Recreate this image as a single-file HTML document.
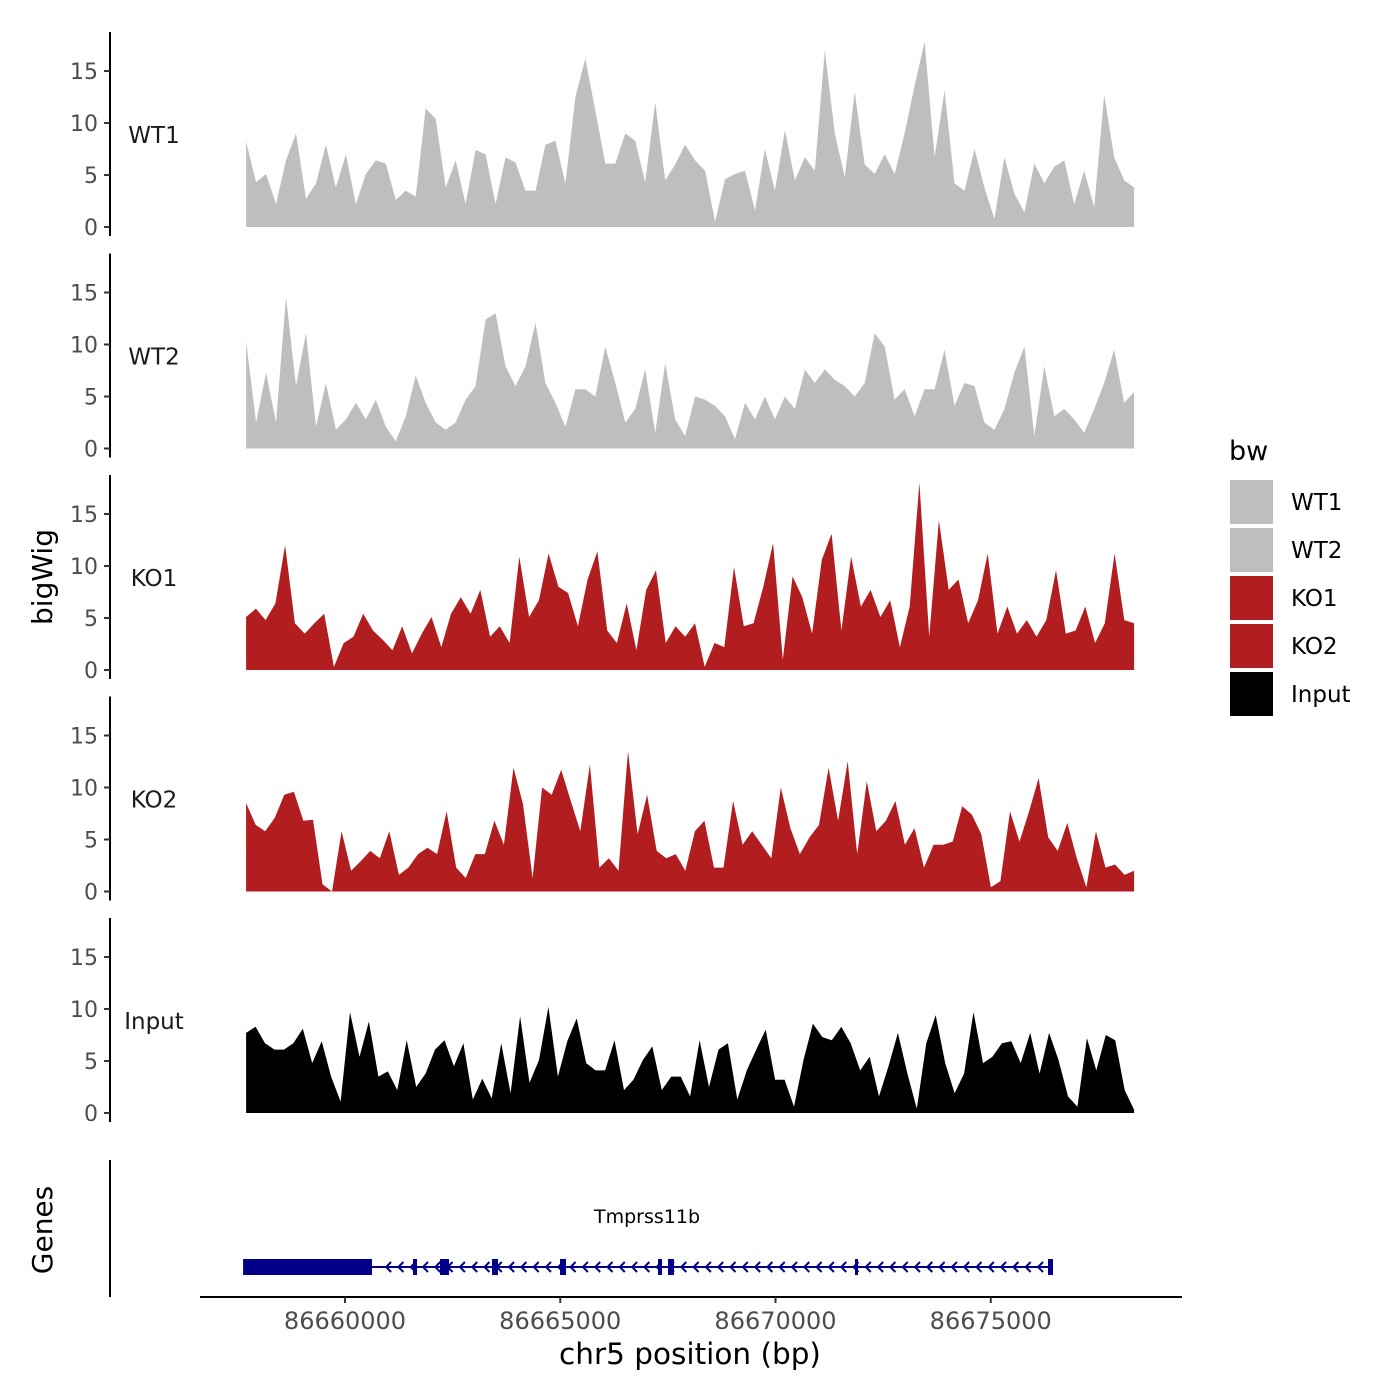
<!DOCTYPE html>
<html><head><meta charset="utf-8"><style>
body{margin:0;background:#fff}
svg{display:block;font-family:"DejaVu Sans","Liberation Sans",sans-serif}
</style></head><body>
<svg id="chart" width="1400" height="1400" viewBox="0 0 1400 1400" xmlns="http://www.w3.org/2000/svg">
<rect width="1400" height="1400" fill="#fff"/>
<g id="tracks"></g>
<g id="genes"></g>
<g id="xaxis"></g>
<text transform="translate(52,577) rotate(-90)" text-anchor="middle" font-size="28" fill="#000">bigWig</text>
<text transform="translate(52,1230) rotate(-90)" text-anchor="middle" font-size="28" fill="#000">Genes</text>
<text x="690" y="1364" text-anchor="middle" font-size="29.5" fill="#000">chr5 position (bp)</text>
<g id="legend"></g>
</svg>
<script>
const trackNames = ["WT1","WT2","KO1","KO2","Input"];
const trackColors = ["#bebebe","#bebebe","#b21e20","#b21e20","#000000"];
const yTicks = [0,5,10,15];
const xTicks = [86660000,86665000,86670000,86675000];
const dataStart = 86657703, dataEnd = 86678330;
const wt1 = [8.2,4.3,5.1,2.2,6.4,9,2.7,4.2,7.9,3.8,7,2.2,5.1,6.4,6.1,2.6,3.5,2.9,11.4,10.4,3.8,6.4,2.2,7.4,7,2.2,6.7,6.2,3.5,3.5,7.9,8.3,4.2,12.5,16.2,11.2,6.1,6.1,9,8.3,4.3,12,4.5,6,7.9,6.4,5.4,0.5,4.6,5.1,5.4,1.6,7.5,3.5,9.3,4.5,6.7,5.4,17,9,4.8,13,6,5.1,7,5.1,9,13.6,17.8,6.7,13.1,4.2,3.5,7.5,3.8,0.8,6.7,3.2,1.4,6.1,4.2,5.8,6.4,2.2,5.4,1.9,12.7,6.7,4.5,3.8];
const wt2 = [10.3,2.5,7.3,2.5,14.6,6,11.1,2.1,6.3,1.8,2.8,4.4,2.8,4.7,2.1,0.7,3.1,7,4.4,2.5,1.8,2.5,4.7,6,12.4,13,7.9,6,7.9,12.1,6.3,4.4,2.1,5.7,5.7,5,9.8,6.3,2.5,3.8,7.6,1.5,8.2,2.8,1.2,5,4.7,4.1,3.1,0.9,4.4,2.8,5,2.8,5,3.8,7.6,6.3,7.6,6.6,6,5,6.3,11.1,9.8,4.7,5.7,3.1,5.7,5.7,9.5,4.1,6.3,6,2.5,1.8,3.8,7.3,9.8,1.2,7.9,3.1,3.8,2.8,1.5,3.8,6.3,9.5,4.4,5.4];
const ko1 = [5.1,5.9,4.8,6.4,12,4.5,3.5,4.5,5.4,0.3,2.6,3.2,5.4,3.8,2.9,1.9,4.2,1.6,3.5,5.1,2.2,5.4,7,5.4,7.7,3.2,4.2,2.6,10.9,5.1,6.7,11.2,8,7.4,4.2,8.7,11.4,3.8,2.6,6.4,1.9,7.7,9.6,2.6,4.2,3.2,4.5,0.3,2.6,2.2,9.9,4.2,4.5,8,12.2,1,9,7,3.5,10.6,13.1,3.8,10.9,6.1,7.7,5.1,6.7,2.2,6.1,18,3.2,14.4,7.7,8.7,4.5,6.7,11.2,3.5,6.1,3.5,4.8,3.2,4.8,9.6,3.5,3.8,6.1,2.6,4.5,11.2,4.8,4.5];
const ko2 = [8.5,6.4,5.8,7.1,9.3,9.6,6.8,6.9,0.7,0,5.8,2,2.9,3.9,3.2,5.8,1.6,2.3,3.6,4.2,3.6,7.7,2.3,1.3,3.6,3.6,6.8,4.5,11.9,8.4,1.3,10,9.3,11.7,8.7,5.8,12.2,2.3,3.2,2,13.5,5.5,9.3,3.9,3.2,3.6,2,5.8,6.8,2.3,2.3,8.7,4.5,5.8,4.5,3.2,10,6.1,3.6,5.2,6.4,11.9,6.8,12.5,3.6,10.6,5.8,6.8,8.7,4.5,6.1,2.3,4.5,4.5,4.8,8.2,7.4,5.5,0.4,1,7.7,4.8,7.7,10.9,5.2,3.9,6.6,3.2,0.4,5.8,2.3,2.6,1.6,2];
const input = [7.7,8.3,6.7,6.1,6.1,6.7,8.1,4.8,6.9,3.5,1.1,9.7,5.4,8.8,3.5,4,2.2,7,2.5,3.8,6.1,7,4.5,6.7,1.3,3.3,1.4,6.7,1.9,9.3,2.9,5.1,10.2,3.5,6.9,9.1,4.8,4.1,4.1,7,2.2,3.2,5.1,6.4,2.2,3.5,3.5,1.6,7,2.5,6.1,6.7,1.3,4.1,6.1,8,3.2,3.2,0.6,5.1,8.6,7.3,7,8.3,6.7,4.1,5.4,1.6,4.5,7.7,3.8,0.4,6.7,9.4,4.8,1.9,3.8,9.7,4.8,5.4,6.7,6.9,4.8,7.7,3.8,7.7,5.1,1.6,0.6,7.2,4.1,7.5,7,2.2,0.3];
const geneName = "Tmprss11b";
const geneStart = 86657633, geneEnd = 86676427;
const exonStarts = [86657633,86661580,86662207,86663415,86664994,86667271,86667503,86671847,86676330];
const exonEnds   = [86660627,86661673,86662416,86663554,86665134,86667364,86667642,86671916,86676446];

const NS="http://www.w3.org/2000/svg";
function mk(tag,attrs,parent){const e=document.createElementNS(NS,tag);for(const k in attrs)e.setAttribute(k,attrs[k]);parent.appendChild(e);return e;}
const xScale = bp => 345 + (bp-86660000)*0.04305;
const series=[wt1,wt2,ko1,ko2,input];
const tracksG=document.getElementById('tracks');
for(let t=0;t<5;t++){
  const base=227+t*221.5;
  const yScale=v=>base - v*10.4;
  const g=mk('g',{},tracksG);
  
  
  const vals=series[t];
  const n=vals.length;
  let d='M'+xScale(dataStart)+','+base;
  vals.forEach((v,i)=>{const bp=dataStart+(dataEnd-dataStart)*i/(n-1);d+=' L'+xScale(bp).toFixed(1)+','+yScale(v).toFixed(1);});
  d+=' L'+xScale(dataEnd)+','+base+' Z';
  const p=mk('path',{d:d,fill:trackColors[t]},g);
  
  
  const ax=mk('line',{x1:110,x2:110,y1:base-195,y2:base+9,stroke:'#000','stroke-width':2},g);
  
  
  yTicks.forEach(v=>{
    const y=yScale(v);
    const tk=mk('line',{x1:104,x2:110,y1:y,y2:y,stroke:'#333','stroke-width':2},g);
    
    
    const tx=mk('text',{x:98,y:y+8,'text-anchor':'end','font-size':22,fill:'#4d4d4d'},g);
    
    
    tx.textContent=v;
  });
  const lb=mk('text',{x:154,y:base-84,'text-anchor':'middle','font-size':23,fill:'#1a1a1a'},g);
  
  
  lb.textContent=trackNames[t];
}
// genes
const gG=document.getElementById('genes');
const ga=mk('line',{x1:110,x2:110,y1:1160,y2:1297,stroke:'#000','stroke-width':2},gG);


const gl=mk('line',{x1:xScale(geneStart),x2:xScale(geneEnd),y1:1267,y2:1267,stroke:'#00008b','stroke-width':2},gG);


for(let x=xScale(geneStart)+145;x<xScale(geneEnd)-4;x+=12.3){
  const c=mk('path',{d:`M${x+3},1262 L${x-2},1267 L${x+3},1272`,fill:'none',stroke:'#00008b','stroke-width':2},gG);
  
  
}
exonStarts.forEach((s,i)=>{
  const x1=xScale(s),x2=xScale(exonEnds[i]);
  const r=mk('rect',{x:x1,y:1259,width:Math.max(3,x2-x1),height:16,fill:'#00008b'},gG);
  
  
});
const gn=mk('text',{x:647,y:1223,'text-anchor':'middle','font-size':19,fill:'#000'},gG);


gn.textContent=geneName;
// x axis
const xa=document.getElementById('xaxis');
const xl=mk('line',{x1:200,x2:1182,y1:1297,y2:1297,stroke:'#000','stroke-width':2},xa);


xTicks.forEach(v=>{
  const x=xScale(v);
  const tk=mk('line',{x1:x,x2:x,y1:1297,y2:1303,stroke:'#333','stroke-width':2},xa);
  
  
  const tx=mk('text',{x:x,y:1329,'text-anchor':'middle','font-size':24,fill:'#4d4d4d'},xa);
  
  
  tx.textContent=v;
});
// legend
const lg=document.getElementById('legend');
const lt=mk('text',{x:1229,y:460,'font-size':27,fill:'#000'},lg);


lt.textContent='bw';
trackNames.forEach((nm,i)=>{
  const y=480+i*48;
  const r=mk('rect',{x:1230,y:y,width:43,height:44,fill:trackColors[i]},lg);
  
  
  const t=mk('text',{x:1291,y:y+30,'font-size':23,fill:'#000'},lg);
  
  
  t.textContent=nm;
});
</script>
</body></html>
